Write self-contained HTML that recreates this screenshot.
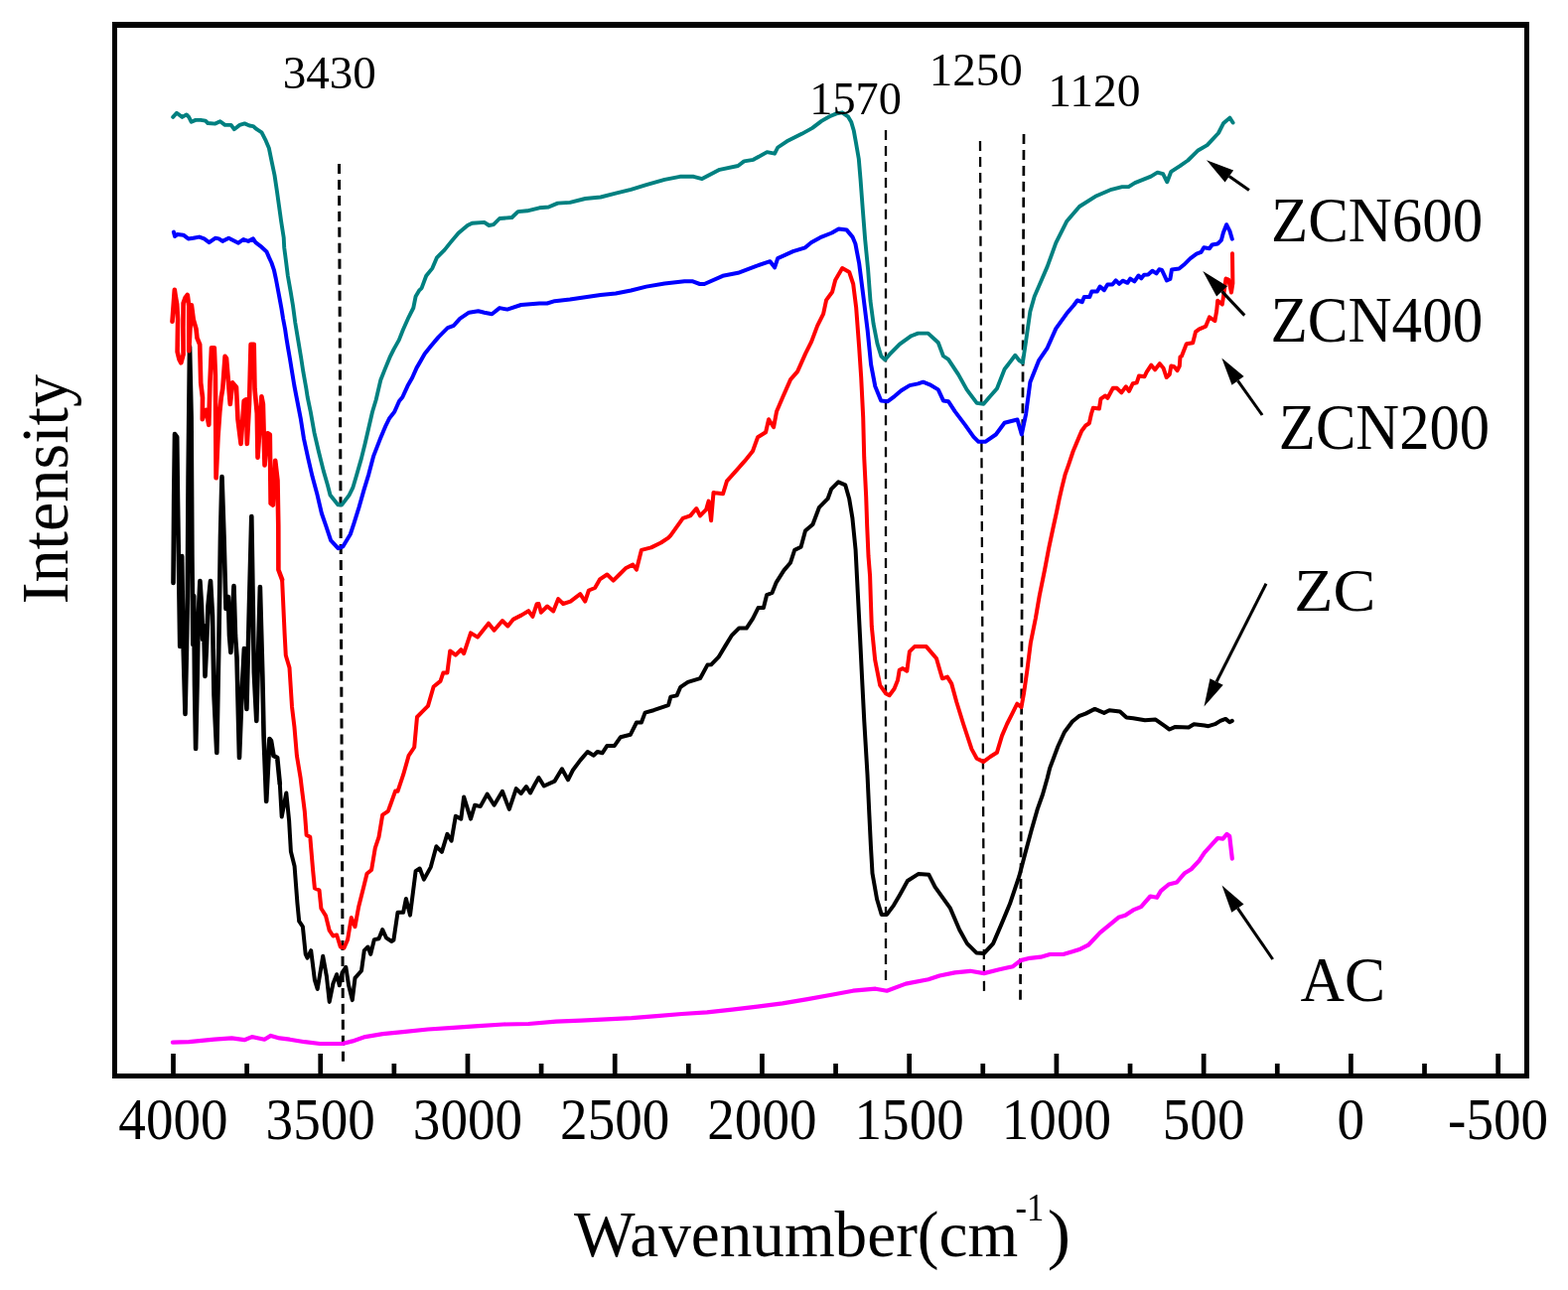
<!DOCTYPE html>
<html><head><meta charset="utf-8"><title>FTIR spectra</title>
<style>html,body{margin:0;padding:0;background:#fff;width:1579px;height:1299px;overflow:hidden}svg{display:block}</style>
</head><body>
<svg width="1579" height="1299" viewBox="0 0 1579 1299">
<rect width="1579" height="1299" fill="#fff"/>
<line x1="341.5" y1="165" x2="345.5" y2="1069" stroke-width="3" stroke="#000" stroke-dasharray="10 5.96" fill="none"/>
<line x1="892" y1="131" x2="892" y2="988" stroke-width="2.3" stroke="#000" stroke-dasharray="10 5.96" fill="none"/>
<line x1="987" y1="142" x2="991" y2="999" stroke-width="2.3" stroke="#000" stroke-dasharray="10 5.96" fill="none"/>
<line x1="1031" y1="135" x2="1027.5" y2="1008" stroke-width="2.7" stroke="#000" stroke-dasharray="10 5.96" fill="none"/>
<polyline points="173.9,1049.7 190.3,1049.2 215.7,1046.7 233.4,1045.4 246.1,1047.2 253.7,1044.1 266.3,1046.7 272.7,1042.9 281.5,1045.4 291.7,1046.7 306.9,1049.2 322.1,1051.0 344.9,1051.0 355.0,1048.4 367.7,1044.1 385.4,1041.1 405.7,1039.1 431.0,1036.5 456.3,1034.8 481.7,1033.2 507.0,1031.5 532.3,1031.0 560.0,1028.6 585.3,1027.6 610.7,1026.4 636.0,1025.1 661.3,1023.1 686.7,1021.0 712.0,1019.3 737.3,1016.7 762.7,1013.7 788.0,1010.4 813.3,1006.1 838.7,1001.5 858.9,997.7 881.7,995.7 893.1,997.7 912.1,990.6 934.9,986.3 946.2,982.5 961.6,979.4 977.0,977.8 990.9,980.1 1006.3,976.3 1020.1,973.2 1027.8,967.1 1037.1,964.8 1048.0,963.7 1057.3,961.0 1070.6,961.0 1079.9,958.3 1087.9,955.7 1095.9,951.7 1107.8,939.1 1118.5,930.4 1126.4,923.8 1133.1,921.8 1141.1,916.4 1149.1,913.1 1158.4,902.5 1165.0,903.8 1169.0,897.2 1177.0,890.5 1185.0,888.5 1193.0,879.2 1199.6,875.2 1207.6,866.6 1212.9,858.6 1219.5,851.3 1226.2,844.0 1231.5,844.6 1235.5,840.0 1238.2,842.0 1240.8,864.6" fill="none" stroke="#ff00ff" stroke-width="4.2" stroke-linejoin="round" stroke-linecap="round"/>
<polyline points="174.5,587.0 175.2,500.0 176.0,437.0 178.2,440.0 179.0,505.0 180.3,590.0 181.2,651.0 182.3,600.0 183.2,560.0 184.3,640.0 186.5,719.0 188.2,640.0 188.8,600.0 189.6,480.0 191.0,349.0 192.6,420.0 193.4,560.0 194.3,649.0 195.2,600.0 196.0,690.0 197.1,754.0 198.5,690.0 199.8,620.0 201.4,585.0 203.0,610.0 204.2,644.0 205.2,630.0 206.5,681.0 208.0,650.0 209.5,610.0 212.0,585.0 214.0,620.0 215.5,700.0 218.3,758.0 220.5,640.0 222.0,540.0 223.5,480.0 225.5,540.0 227.5,613.0 229.9,601.0 231.0,640.0 232.4,657.0 234.0,620.0 235.5,590.0 237.0,640.0 238.5,662.0 241.0,763.0 243.5,699.0 245.9,653.0 248.4,714.0 250.9,613.0 253.3,520.0 255.8,677.0 258.3,726.0 261.9,591.0 264.4,682.0 265.6,741.0 268.2,807.0 271.4,744.0 273.0,746.0 275.5,761.0 279.2,763.0 281.8,789.2" fill="none" stroke="#000000" stroke-width="4.6" stroke-linejoin="round" stroke-linecap="round"/>
<polyline points="281.8,789.2 283.7,822.5 288.3,798.5 291.1,826.2 292.9,857.5 296.6,872.3 299.4,909.2 301.2,927.7 304.9,933.2 307.7,960.9 309.5,964.6 313.2,957.2 316.9,986.8 319.7,996.0 325.2,962.8 328.9,983.1 331.7,1008.9 335.4,990.5 339.1,981.2 341.8,992.3 344.6,979.4 348.3,973.8 351.1,992.3 354.8,1007.1 357.5,984.9 364.0,977.5 366.8,957.2 370.5,953.5 373.2,960.9 376.9,946.1 381.5,945.2 385.2,936.0 388.9,944.3 394.5,948.0 396.4,946.6 400.5,918.8 406.1,918.8 408.9,905.0 413.0,921.6 418.6,877.2 422.7,874.5 426.9,885.6 433.8,873.1 439.4,852.3 444.9,857.8 450.4,839.8 454.6,846.7 458.8,821.8 464.3,824.6 467.1,802.4 474.0,824.6 478.2,810.7 483.7,812.1 490.6,799.6 497.6,810.7 505.9,796.8 512.8,814.9 519.8,794.1 524.7,799.0 530.0,792.0 534.0,798.5 538.5,790.0 542.5,783.0 547.8,791.5 558.5,786.6 565.9,774.3 572.0,785.3 576.9,775.5 584.3,765.6 591.7,757.0 597.9,760.7 601.6,757.0 606.5,758.3 611.4,750.9 618.8,750.9 625.0,742.2 634.8,739.8 641.0,727.5 645.9,727.5 649.6,717.6 658.2,715.2 673.0,710.2 675.4,701.6 681.6,700.4 685.3,691.8 692.7,686.8 705.0,683.2 712.4,669.6 716.1,669.3 723.6,661.7 730.1,650.9 736.6,640.2 744.1,632.6 751.7,632.6 758.1,622.9 763.5,612.1 768.9,612.1 772.1,599.2 777.5,597.0 781.8,586.3 789.4,574.4 795.9,566.8 800.2,553.9 806.6,550.7 811.0,534.5 818.5,528.0 825.0,510.8 833.6,502.2 837.2,492.3 844.2,485.3 851.2,488.3 855.2,502.3 858.4,521.6 861.6,553.9 863.8,597.0 866.0,640.2 868.1,683.3 870.3,726.4 873.5,780.0 875.4,820.8 876.9,851.6 878.5,879.3 883.1,905.5 887.7,920.9 893.1,920.9 900.0,911.6 906.2,900.9 913.9,887.0 924.7,880.1 935.4,880.8 941.6,893.2 949.3,903.9 957.0,914.7 966.2,936.3 973.9,950.1 983.2,959.4 990.9,960.1 1000.1,950.1 1009.3,928.6 1017.0,910.1 1026.3,882.4 1032.4,859.3 1038.6,836.2 1044.8,814.6 1050.0,800.0 1054.6,783.7 1057.3,773.1 1061.3,762.5 1065.3,751.8 1071.9,737.2 1079.9,726.5 1086.5,721.2 1093.2,718.6 1102.5,713.9 1111.8,717.9 1117.1,715.2 1127.8,716.6 1134.4,722.6 1141.1,723.2 1153.0,725.2 1163.7,724.6 1173.0,731.2 1177.6,734.5 1183.6,731.9 1196.9,732.5 1202.3,729.2 1212.9,730.5 1216.9,731.2 1223.5,729.2 1228.9,725.9 1234.2,723.9 1238.2,727.2 1240.8,725.9" fill="none" stroke="#000000" stroke-width="4" stroke-linejoin="round" stroke-linecap="round"/>
<polyline points="173.5,323.8 175.8,291.9 177.0,300.0 178.2,306.2 179.1,321.9 178.8,340.0 178.6,354.3 180.5,362.0 182.3,365.3 184.6,357.0 184.4,330.0 184.6,305.3 186.5,300.0 188.8,297.0 190.2,308.1 190.2,330.0 190.2,353.3 191.5,330.0 192.9,307.2 194.8,322.0 197.5,331.2 198.5,340.4 201.2,346.9 202.2,385.6 204.0,400.4 203.8,422.2 205.5,415.0 207.5,413.0 210.3,427.8 211.4,385.6 213.0,350.2 215.8,350.2 216.9,377.3 217.6,481.3 219.5,440.0 221.3,414.8 222.8,400.0 224.3,391.2 226.6,358.9 228.0,360.8 230.3,388.5 231.8,407.0 234.2,385.4 238.0,390.0 239.5,422.3 242.6,446.9 245.7,403.8 248.0,402.3 248.8,446.9 251.0,406.9 252.6,346.9 255.7,346.9 256.5,391.5 258.8,416.2 259.5,460.8 261.1,437.7 263.4,399.2 264.9,406.9 266.5,468.5 269.5,436.2 271.8,437.7 272.6,506.9 274.9,508.5 277.2,463.8 279.5,483.8 280.3,529.8 280.4,573.7 284.1,583.6" fill="none" stroke="#ff0000" stroke-width="4.6" stroke-linejoin="round" stroke-linecap="round"/>
<polyline points="284.1,583.6 286.6,637.8 287.8,660.0 291.5,672.3 294.0,711.7 296.4,731.4 298.9,760.9 302.6,783.1 304.0,794.8 306.8,816.9 308.6,840.9 312.3,842.8 315.1,876.0 316.9,894.5 321.5,896.3 323.4,914.8 328.0,922.1 331.7,936.9 335.4,942.5 339.1,941.5 342.8,953.5 346.5,954.5 350.1,946.1 353.8,924.0 357.5,933.2 361.2,912.9 366.8,890.8 369.5,879.7 374.1,876.0 377.8,853.8 381.5,842.8 385.2,820.6 390.8,816.9 393.5,809.5 398.1,796.6 400.5,796.8 406.1,780.2 411.6,760.8 417.2,752.5 420.0,722.0 425.5,716.4 431.0,710.9 436.6,691.5 443.5,685.9 446.3,677.6 450.4,677.6 453.2,655.4 458.8,659.6 464.3,654.1 467.1,658.2 474.0,637.4 481.0,641.6 492.0,627.7 497.6,634.7 505.9,625.0 511.4,630.5 517.0,623.6 525.3,619.4 532.2,615.2 536.4,620.8 540.5,608.3 542.5,608.0 544.9,616.7 551.1,610.5 557.2,615.4 562.2,603.1 567.1,608.0 574.5,605.6 584.3,598.2 589.2,605.6 592.9,594.5 599.1,592.0 604.0,583.4 611.4,578.5 617.6,584.7 623.7,578.5 629.9,572.3 637.3,568.6 641.0,573.6 645.9,553.9 655.7,551.4 665.6,546.5 673.0,541.6 675.4,539.1 687.7,521.9 695.1,519.4 701.3,512.0 705.0,519.4 711.1,513.2 713.6,504.6 716.1,524.3 718.5,496.0 720.0,496.3 728.0,497.3 732.0,484.3 741.0,474.3 750.0,464.2 758.0,454.2 763.1,440.2 771.1,435.2 774.1,422.2 779.1,430.2 782.1,414.2 788.1,400.2 796.1,382.1 803.1,374.1 811.1,356.1 817.1,344.1 823.1,328.1 829.1,316.1 832.1,302.1 838.1,294.0 841.2,282.0 848.2,270.0 855.2,274.0 859.2,286.0 862.2,310.1 865.2,350.1 867.2,380.1 869.2,420.2 870.2,460.2 872.2,500.3 873.2,530.0 874.5,560.0 876.1,580.0 876.9,605.4 877.8,630.8 881.2,664.7 886.2,690.1 892.2,698.5 895.6,700.2 900.6,693.5 904.0,685.0 905.7,674.8 909.1,673.1 913.3,675.7 915.9,656.2 921.0,651.1 932.8,651.1 943.0,663.0 946.4,674.8 948.9,683.3 954.0,681.6 958.2,688.4 963.3,707.0 970.1,729.0 978.5,754.4 983.6,763.7 990.4,767.1 997.2,762.0 1003.9,757.8 1009.0,740.9 1014.1,729.0 1019.2,718.9 1024.3,708.7 1028.5,712.1 1031.0,698.5 1034.4,674.8 1037.8,647.7 1042.9,622.3 1046.7,600.2 1052.1,573.5 1056.2,551.9 1060.2,533.0 1064.3,514.2 1066.6,502.9 1069.3,491.1 1072.5,478.2 1076.3,467.4 1080.6,454.5 1083.8,446.9 1089.2,434.0 1093.3,428.5 1096.9,426.2 1098.9,417.0 1100.8,410.8 1106.9,411.6 1108.5,401.6 1113.1,398.5 1115.4,400.8 1120.8,390.8 1124.6,390.8 1129.3,395.4 1133.9,389.3 1137.0,393.9 1140.8,386.2 1144.7,385.4 1147.0,378.5 1152.4,379.3 1154.7,374.6 1159.3,367.7 1163.1,372.3 1167.8,366.2 1171.6,370.8 1174.7,380.0 1177.8,377.0 1179.3,368.5 1182.4,369.3 1185.5,373.1 1187.8,368.5 1188.5,359.2 1190.0,358.5 1194.8,346.2 1201.2,345.3 1204.0,334.2 1207.7,331.4 1214.2,328.6 1217.9,319.4 1223.4,323.1 1225.2,312.9 1226.2,302.8 1230.8,306.5 1232.2,297.2 1234.5,280.6 1237.2,281.6 1240.0,294.5 1241.4,285.2 1241.0,255.3" fill="none" stroke="#ff0000" stroke-width="4" stroke-linejoin="round" stroke-linecap="round"/>
<polyline points="174.9,233.6 176.1,238.0 178.5,236.1 184.7,236.7 189.6,240.4 194.6,239.8 200.7,238.6 205.6,240.4 210.6,244.1 216.7,239.8 220.4,240.4 224.1,242.9 230.3,239.8 235.2,242.3 240.1,244.7 245.1,241.0 250.0,242.9 254.9,240.4 257.4,244.1 262.3,247.8 268.5,253.5 271.0,259.4 273.4,264.5 275.9,271.8 277.8,280.5 279.6,290.0 281.5,300.1 283.5,311.0 285.1,321.0 287.1,331.5 288.5,341.0 290.1,350.6 291.9,361.0 293.8,372.8 296.3,388.0 298.6,400.0 302.9,422.2 306.0,441.9 310.3,461.6 314.6,480.1 319.6,498.6 323.9,517.0 328.2,529.4 333.1,544.1 340.5,552.2 345.4,550.3 352.8,538.0 356.5,526.9 361.5,510.9 366.4,493.6 371.3,477.6 376.2,459.1 382.4,443.1 388.6,428.3 392.3,420.9 397.2,414.8 402.1,403.7 405.3,400.0 410.5,388.6 415.1,380.5 419.7,370.1 421.5,367.1 427.7,356.3 433.9,348.6 441.6,339.4 450.8,330.1 457.0,327.8 463.1,320.9 472.3,314.7 481.6,313.2 487.7,314.7 495.4,316.3 503.1,310.1 510.8,311.6 524.7,307.0 543.2,305.5 550.9,305.5 558.6,303.2 574.0,301.6 589.4,299.3 604.8,297.0 620.0,295.5 635.4,292.5 650.8,288.6 669.3,285.5 689.3,283.2 697.0,283.2 704.7,286.0 709.3,286.0 727.8,277.8 743.2,274.8 761.6,267.8 775.5,263.2 780.1,269.4 783.2,260.1 798.6,253.2 810.9,249.3 816.9,244.3 827.3,238.6 837.7,234.5 844.6,230.5 852.7,231.6 858.5,238.6 861.4,245.5 865.2,265.4 869.5,299.3 873.7,333.1 877.1,367.0 881.3,389.0 887.2,403.4 894.0,404.2 900.8,399.1 907.6,393.2 916.0,388.1 924.5,386.4 929.6,384.7 936.3,387.3 944.8,392.4 949.9,403.4 955.0,404.2 961.7,414.4 971.9,427.9 980.4,439.8 985.4,444.8 992.2,444.8 1002.9,437.5 1011.6,425.7 1024.5,422.5 1028.8,437.5 1033.1,417.1 1037.4,384.7 1046.0,363.2 1054.7,350.3 1063.3,330.9 1074.1,315.8 1081.4,307.3 1084.9,302.5 1089.7,304.2 1091.8,299.0 1097.3,299.0 1099.4,293.5 1104.9,293.5 1107.7,288.6 1111.9,292.1 1115.3,286.5 1120.2,286.5 1123.7,282.4 1127.1,285.8 1130.6,282.7 1135.4,284.8 1138.2,280.6 1142.4,283.4 1146.5,277.5 1149.3,280.3 1152.1,276.8 1156.2,276.5 1160.4,272.7 1164.5,275.4 1167.3,271.3 1170.1,272.0 1174.9,282.4 1178.4,281.0 1180.0,271.4 1187.4,270.5 1192.0,266.8 1198.5,260.3 1204.9,255.7 1209.5,253.9 1212.3,249.2 1217.9,250.2 1220.6,246.5 1226.2,245.5 1229.9,241.8 1231.9,234.2 1235.1,226.2 1238.4,232.6 1240.8,240.7" fill="none" stroke="#0000ff" stroke-width="4" stroke-linejoin="round" stroke-linecap="round"/>
<polyline points="174.2,117.9 177.9,113.8 183.5,117.9 187.8,115.4 190.2,117.9 192.7,122.8 197.0,120.9 202.0,120.9 206.9,121.6 209.3,124.0 216.7,124.6 221.7,122.2 226.6,125.9 232.7,125.9 235.8,130.2 241.4,125.9 246.3,124.4 251.2,126.5 254.9,127.1 258.6,130.2 263.5,133.3 267.2,140.6 270.9,149.3 273.4,161.6 276.5,176.4 278.9,192.4 280.8,205.9 283.2,223.2 285.7,239.2 286.2,249.2 288.0,263.0 289.8,277.5 292.7,293.9 295.0,307.7 297.3,325.0 300.2,342.4 303.1,359.7 305.4,374.7 308.3,390.9 309.7,400.0 312.8,414.8 316.5,435.7 320.8,454.2 325.7,473.9 330.0,488.7 332.5,498.6 340.5,508.4 344.2,508.4 351.6,498.6 355.3,491.2 359.0,478.8 363.9,461.6 367.6,446.8 371.3,430.8 375.0,414.8 378.7,402.5 383.3,382.8 387.4,372.4 392.6,359.7 396.6,351.6 401.8,342.4 405.9,332.0 411.6,319.3 416.3,310.0 418.6,298.5 422.0,292.7 424.6,290.1 429.2,277.8 435.4,270.1 440.0,259.3 447.7,251.6 453.9,243.9 461.6,234.7 470.8,227.0 475.4,224.7 487.7,223.9 492.4,227.0 497.0,226.2 503.1,220.0 515.5,219.0 521.6,213.1 530.9,212.3 543.2,209.3 552.4,208.5 561.6,204.6 574.0,203.9 589.4,200.0 604.8,198.5 620.0,194.7 635.4,190.8 650.8,186.2 669.3,180.8 684.7,177.8 698.5,177.8 707.0,180.1 724.7,170.8 743.2,167.0 749.3,162.4 758.6,160.8 772.4,153.1 780.1,154.7 783.2,148.5 792.4,142.3 807.8,134.6 818.1,128.9 827.3,121.9 835.4,117.3 842.3,114.4 848.1,113.3 853.9,117.3 857.3,123.1 859.7,131.2 862.0,143.9 864.8,160.0 866.5,180.0 868.8,210.8 871.2,241.5 874.2,272.3 876.5,303.1 879.6,326.2 883.5,346.2 887.3,358.5 891.2,362.3 895.8,356.9 905.9,346.7 917.7,338.2 924.5,335.6 934.6,335.6 944.8,345.0 949.9,358.5 955.0,361.9 965.1,377.1 973.6,392.4 983.7,405.9 990.5,406.8 996.5,399.8 1004.0,391.2 1011.6,371.8 1022.3,357.8 1026.6,363.2 1029.9,365.3 1033.1,343.8 1037.4,313.6 1041.7,298.5 1048.2,283.4 1054.7,268.4 1063.3,244.7 1074.1,223.1 1087.0,208.0 1104.2,197.2 1119.3,190.8 1130.0,188.1 1136.5,188.1 1142.9,184.1 1151.0,180.9 1159.1,177.6 1165.6,173.6 1171.2,175.2 1175.3,183.3 1179.3,172.8 1188.2,167.1 1196.3,161.5 1206.0,151.8 1215.7,146.1 1227.0,134.0 1231.9,124.3 1238.4,118.6 1241.6,123.5" fill="none" stroke="#008080" stroke-width="3.9" stroke-linejoin="round" stroke-linecap="round"/>
<path d="M113,22H1540V1086H113Z M118,28V1081H1535V28Z" fill="#000" fill-rule="evenodd"/>
<path d="M172.15,1061h4.7V1082h-4.7Z M246.27,1071h4.7V1082h-4.7Z M320.38,1061h4.7V1082h-4.7Z M394.50,1071h4.7V1082h-4.7Z M468.62,1061h4.7V1082h-4.7Z M542.74,1071h4.7V1082h-4.7Z M616.86,1061h4.7V1082h-4.7Z M690.97,1071h4.7V1082h-4.7Z M765.09,1061h4.7V1082h-4.7Z M839.21,1071h4.7V1082h-4.7Z M913.33,1061h4.7V1082h-4.7Z M987.44,1071h4.7V1082h-4.7Z M1061.56,1061h4.7V1082h-4.7Z M1135.68,1071h4.7V1082h-4.7Z M1209.80,1061h4.7V1082h-4.7Z M1283.91,1071h4.7V1082h-4.7Z M1358.03,1061h4.7V1082h-4.7Z M1432.15,1071h4.7V1082h-4.7Z M1506.27,1061h4.7V1082h-4.7Z" fill="#000"/>
<line x1="1237.8" y1="177.4" x2="1257.9" y2="191.6" stroke="#000" stroke-width="3"/><path d="M1215.0,161.2L1233.6,183.4L1242.1,171.4Z" fill="#000"/>
<line x1="1230.5" y1="293.4" x2="1253.3" y2="317.6" stroke="#000" stroke-width="3"/><path d="M1211.3,273.0L1225.1,298.5L1235.9,288.3Z" fill="#000"/>
<line x1="1246.5" y1="383.4" x2="1271.1" y2="418.0" stroke="#000" stroke-width="3"/><path d="M1230.3,360.6L1240.5,387.7L1252.6,379.1Z" fill="#000"/>
<line x1="1225.1" y1="686.5" x2="1275.0" y2="587.7" stroke="#000" stroke-width="3"/><path d="M1212.5,711.5L1231.7,689.8L1218.5,683.2Z" fill="#000"/>
<line x1="1246.4" y1="914.6" x2="1281.7" y2="966.0" stroke="#000" stroke-width="3"/><path d="M1230.5,891.5L1240.3,918.8L1252.5,910.4Z" fill="#000"/>
<g font-family="&quot;Liberation Serif&quot;, &quot;Times New Roman&quot;, serif" font-size="100" fill="#000">
<text text-anchor="middle" transform="matrix(0.5515 0 0 0.5896 174.50 1146.82)">4000</text>
<text text-anchor="middle" transform="matrix(0.5515 0 0 0.5896 322.74 1146.82)">3500</text>
<text text-anchor="middle" transform="matrix(0.5515 0 0 0.5896 470.97 1146.82)">3000</text>
<text text-anchor="middle" transform="matrix(0.5515 0 0 0.5896 619.21 1146.82)">2500</text>
<text text-anchor="middle" transform="matrix(0.5515 0 0 0.5896 767.44 1146.82)">2000</text>
<text text-anchor="middle" transform="matrix(0.5515 0 0 0.5896 915.68 1146.82)">1500</text>
<text text-anchor="middle" transform="matrix(0.5515 0 0 0.5896 1063.91 1146.82)">1000</text>
<text text-anchor="middle" transform="matrix(0.5515 0 0 0.5896 1212.14 1146.82)">500</text>
<text text-anchor="middle" transform="matrix(0.5515 0 0 0.5896 1360.38 1146.82)">0</text>
<text text-anchor="middle" transform="matrix(0.5515 0 0 0.5896 1508.62 1146.82)">-500</text>
<text transform="matrix(0.6522 0 0 0.6656 577.90 1264.82)">Wavenumber(cm</text>
<text transform="matrix(0.3452 0 0 0.3970 1022.42 1229.10)">-1</text>
<text transform="matrix(0.7000 0 0 0.6700 1054.80 1264.93)">)</text>
<text transform="matrix(0 -0.6618 0.6767 0 67.89 608.55)">Intensity</text>
<text transform="matrix(0.4712 0 0 0.4642 284.64 89.07)">3430</text>
<text transform="matrix(0.4631 0 0 0.4691 815.23 115.46)">1570</text>
<text transform="matrix(0.4706 0 0 0.4691 935.76 85.76)">1250</text>
<text transform="matrix(0.4760 0 0 0.4691 1055.22 107.46)">1120</text>
<text transform="matrix(0.6097 0 0 0.6418 1279.95 242.62)">ZCN600</text>
<text transform="matrix(0.6109 0 0 0.6448 1279.45 344.31)">ZCN400</text>
<text transform="matrix(0.6065 0 0 0.6448 1287.87 451.51)">ZCN200</text>
<text transform="matrix(0.6419 0 0 0.6179 1303.29 614.96)">ZC</text>
<text transform="matrix(0.6159 0 0 0.6250 1309.58 1008.05)">AC</text>
</g>
</svg>
</body></html>
